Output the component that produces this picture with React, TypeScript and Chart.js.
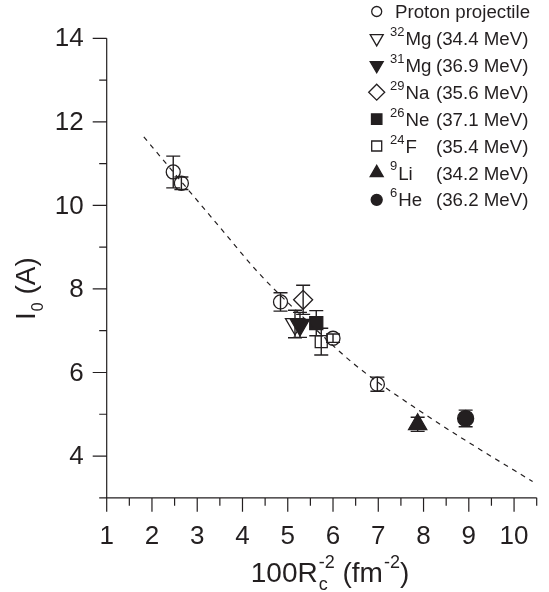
import React, { useEffect, useRef } from 'react';
import { Chart, registerables } from 'chart.js';

Chart.register(...registerables);

// ---- Axis ticks ----
const xTicks = [1, 2, 3, 4, 5, 6, 7, 8, 9, 10];
const xMinor = [1.5, 2.5, 3.5, 4.5, 5.5, 6.5, 7.5, 8.5, 9.5, 10.5];
const yTicks = [4, 6, 8, 10, 12, 14];
const yMinor = [3, 5, 7, 9, 11, 13];

// ---- Data ----
const protonX = [2.47, 2.65, 4.84, 6.0, 6.98];
const protonY = [10.8, 10.53, 7.69, 6.82, 5.72];
const protonErr = [0.38, 0.15, 0.22, 0.1, 0.17];

const mg32X = [5.16];
const mg32Y = [7.16];
const mg32Err = [0.33];

const mg31X = [5.27];
const mg31Y = [7.14];
const mg31Err = [0.3];

const na29X = [5.34];
const na29Y = [7.74];
const na29Err = [0.35];

const ne26X = [5.63];
const ne26Y = [7.18];
const ne26Err = [0.3];

const f24X = [5.74];
const f24Y = [6.74];
const f24Err = [0.32];

const li9X = [7.87];
const li9Y = [4.76];
const li9Err = [0.17];

const he6X = [8.93];
const he6Y = [4.9];
const he6Err = [0.2];

const fitX = [1.82, 2.09, 3.52, 4.35, 5.4, 6.49, 8.0, 9.2, 10.41];
const fitY = [11.64, 11.29, 9.45, 8.39, 7.26, 6.18, 5.02, 4.19, 3.39];

// legend entries: superscript, name, energy
const legendSup = ['', '32', '31', '29', '26', '24', '9', '6'];
const legendName = ['Proton projectile', 'Mg', 'Mg', 'Na', 'Ne', 'F', 'Li', 'He'];
const legendEnergy = ['', '(34.4 MeV)', '(36.9 MeV)', '(35.6 MeV)', '(37.1 MeV)', '(35.4 MeV)', '(34.2 MeV)', '(36.2 MeV)'];

const INK = '#231f20';
const FONT = '"Liberation Sans", Arial, Helvetica, sans-serif';

const zip = (xs: number[], ys: number[]) => xs.map((x, i) => ({ x, y: ys[i] }));

type Marker = { shape: string; fill: boolean; size: number };
const legendMarkers: Marker[] = [
  { shape: 'circle', fill: false, size: 5 },
  { shape: 'tdown', fill: false, size: 7.5 },
  { shape: 'tdown', fill: true, size: 7.5 },
  { shape: 'diamond', fill: false, size: 8 },
  { shape: 'square', fill: true, size: 5.2 },
  { shape: 'square', fill: false, size: 5 },
  { shape: 'tup', fill: true, size: 7.5 },
  { shape: 'circle', fill: true, size: 5.5 },
];

function drawMarker(ctx: CanvasRenderingContext2D, m: Marker, x: number, y: number) {
  ctx.save();
  ctx.beginPath();
  const r = m.size;
  if (m.shape === 'circle') {
    ctx.arc(x, y, r, 0, Math.PI * 2);
  } else if (m.shape === 'square') {
    ctx.rect(x - r, y - r, 2 * r, 2 * r);
  } else if (m.shape === 'diamond') {
    ctx.moveTo(x, y - r);
    ctx.lineTo(x + r, y);
    ctx.lineTo(x, y + r);
    ctx.lineTo(x - r, y);
    ctx.closePath();
  } else if (m.shape === 'tdown') {
    const h = r * Math.sqrt(3) / 2;
    ctx.moveTo(x - h, y - r / 2);
    ctx.lineTo(x + h, y - r / 2);
    ctx.lineTo(x, y + r);
    ctx.closePath();
  } else if (m.shape === 'tup') {
    const h = r * Math.sqrt(3) / 2;
    ctx.moveTo(x - h, y + r / 2);
    ctx.lineTo(x + h, y + r / 2);
    ctx.lineTo(x, y - r);
    ctx.closePath();
  }
  ctx.lineWidth = 1.3;
  ctx.strokeStyle = INK;
  if (m.fill) {
    ctx.fillStyle = INK;
    ctx.fill();
  }
  ctx.stroke();
  ctx.restore();
}

const errorSets = [
  { xs: protonX, ys: protonY, es: protonErr },
  { xs: mg32X, ys: mg32Y, es: mg32Err },
  { xs: mg31X, ys: mg31Y, es: mg31Err },
  { xs: na29X, ys: na29Y, es: na29Err },
  { xs: ne26X, ys: ne26Y, es: ne26Err },
  { xs: f24X, ys: f24Y, es: f24Err },
  { xs: li9X, ys: li9Y, es: li9Err },
  { xs: he6X, ys: he6Y, es: he6Err },
];

const customPlugin = {
  id: 'customAxesLegend',
  beforeDatasetsDraw(chart: any) {
    const ctx: CanvasRenderingContext2D = chart.ctx;
    const xs = chart.scales.x;
    const ys = chart.scales.y;
    ctx.save();
    ctx.strokeStyle = INK;
    ctx.lineWidth = 1.4;
    errorSets.forEach((s) => {
      s.xs.forEach((xv, i) => {
        const px = xs.getPixelForValue(xv);
        const top = ys.getPixelForValue(s.ys[i] + s.es[i]);
        const bot = ys.getPixelForValue(s.ys[i] - s.es[i]);
        ctx.beginPath();
        ctx.moveTo(px, top);
        ctx.lineTo(px, bot);
        ctx.moveTo(px - 7, top);
        ctx.lineTo(px + 7, top);
        ctx.moveTo(px - 7, bot);
        ctx.lineTo(px + 7, bot);
        ctx.stroke();
      });
    });
    ctx.restore();
  },
  afterDraw(chart: any) {
    const ctx: CanvasRenderingContext2D = chart.ctx;
    const xs = chart.scales.x;
    const ys = chart.scales.y;
    const left = xs.getPixelForValue(1);
    const right = xs.getPixelForValue(10.5);
    const top = ys.getPixelForValue(14);
    const bottom = ys.getPixelForValue(3);
    ctx.save();
    ctx.strokeStyle = INK;
    ctx.lineWidth = 1.2;
    // axis lines
    ctx.beginPath();
    ctx.moveTo(left, top);
    ctx.lineTo(left, bottom);
    ctx.moveTo(left, bottom);
    ctx.lineTo(right, bottom);
    // y ticks
    yTicks.forEach((v) => {
      const p = ys.getPixelForValue(v);
      ctx.moveTo(left - 14, p);
      ctx.lineTo(left, p);
    });
    yMinor.forEach((v) => {
      const p = ys.getPixelForValue(v);
      ctx.moveTo(left - 7.5, p);
      ctx.lineTo(left, p);
    });
    xTicks.forEach((v) => {
      const p = xs.getPixelForValue(v);
      ctx.moveTo(p, bottom);
      ctx.lineTo(p, bottom + 14);
    });
    xMinor.forEach((v) => {
      const p = xs.getPixelForValue(v);
      ctx.moveTo(p, bottom);
      ctx.lineTo(p, bottom + 8);
    });
    ctx.stroke();

    // tick labels
    ctx.fillStyle = INK;
    ctx.font = `26px ${FONT}`;
    ctx.textAlign = 'right';
    ctx.textBaseline = 'middle';
    yTicks.forEach((v) => {
      ctx.fillText(String(v), left - 23, ys.getPixelForValue(v) + 1);
    });
    ctx.textAlign = 'center';
    ctx.textBaseline = 'alphabetic';
    xTicks.forEach((v) => {
      ctx.fillText(String(v), xs.getPixelForValue(v), bottom + 46);
    });

    // x title: 100R_c^-2 (fm^-2)
    ctx.textAlign = 'left';
    const main = `28px ${FONT}`;
    const script = `18px ${FONT}`;
    ctx.font = main;
    const w1 = ctx.measureText('100R').width;
    const w3 = ctx.measureText(' (fm').width;
    const w5 = ctx.measureText(')').width;
    ctx.font = script;
    const w2 = Math.max(ctx.measureText('-2').width, ctx.measureText('c').width);
    const w4 = ctx.measureText('-2').width;
    const total = w1 + w2 + w3 + w4 + w5 + 2;
    let tx = 330 - total / 2;
    const base = bottom + 84;
    ctx.font = main;
    ctx.fillText('100R', tx, base);
    tx += w1 + 1;
    ctx.font = script;
    ctx.fillText('-2', tx, base - 14);
    ctx.fillText('c', tx, base + 8);
    tx += w2;
    ctx.font = main;
    ctx.fillText(' (fm', tx, base);
    tx += w3 + 1;
    ctx.font = script;
    ctx.fillText('-2', tx, base - 14);
    tx += w4;
    ctx.font = main;
    ctx.fillText(')', tx, base);

    // y title: I_0 (A)
    ctx.save();
    ctx.translate(35, 320);
    ctx.rotate(-Math.PI / 2);
    ctx.font = main;
    ctx.fillText('I', 0, 0);
    const wi = ctx.measureText('I').width;
    ctx.font = `16px ${FONT}`;
    ctx.fillText('0', wi + 1, 8);
    const w0 = ctx.measureText('0').width;
    ctx.font = main;
    ctx.fillText(' (A)', wi + 1 + w0, 0);
    ctx.restore();

    // legend
    for (let i = 0; i < legendName.length; i++) {
      const yc = 11.5 + i * 26.9;
      drawMarker(ctx, legendMarkers[i], 376.7, yc);
      ctx.fillStyle = INK;
      let lx = 390;
      if (legendSup[i]) {
        ctx.font = `13px ${FONT}`;
        ctx.fillText(legendSup[i], lx, yc - 2.5);
        lx += ctx.measureText(legendSup[i]).width + 1;
      } else {
        lx = 395;
      }
      ctx.font = `18.7px ${FONT}`;
      ctx.fillText(legendName[i], lx, yc + 6.6);
      if (legendEnergy[i]) {
        ctx.fillText(legendEnergy[i], 436, yc + 6.6);
      }
    }
    ctx.restore();
  },
};

const pt = (style: string, radius: number, fill: boolean, rotation = 0) => ({
  type: 'scatter' as const,
  showLine: false,
  pointStyle: style,
  pointRadius: radius,
  pointHoverRadius: radius,
  pointRotation: rotation,
  pointBorderWidth: 1.3,
  borderColor: INK,
  backgroundColor: fill ? INK : 'rgba(0,0,0,0)',
  pointBackgroundColor: fill ? INK : 'rgba(0,0,0,0)',
  pointBorderColor: INK,
});

export default function App() {
  const ref = useRef<HTMLCanvasElement>(null);
  useEffect(() => {
    if (!ref.current) return;
    const chart = new Chart(ref.current, {
      type: 'scatter',
      data: {
        datasets: [
          {
            type: 'line',
            label: 'fit',
            data: zip(fitX, fitY),
            borderColor: INK,
            borderWidth: 1.2,
            borderDash: [5, 5],
            pointRadius: 0,
            fill: false,
            cubicInterpolationMode: 'monotone',
          } as any,
          { label: 'Proton projectile', data: zip(protonX, protonY), ...pt('circle', 7, false) },
          { label: '32Mg', data: zip(mg32X, mg32Y), ...pt('triangle', 11, false, 180) },
          { label: '31Mg', data: zip(mg31X, mg31Y), ...pt('triangle', 11, true, 180) },
          { label: '29Na', data: zip(na29X, na29Y), ...pt('rectRot', 9.5, false) },
          { label: '26Ne', data: zip(ne26X, ne26Y), ...pt('rect', 9.2, true) },
          { label: '24F', data: zip(f24X, f24Y), ...pt('rect', 8.5, false) },
          { label: '9Li', data: zip(li9X, li9Y), ...pt('triangle', 10.5, true) },
          { label: '6He', data: zip(he6X, he6Y), ...pt('circle', 8, true) },
        ],
      },
      options: {
        responsive: false,
        animation: false,
        events: [],
        layout: { padding: { left: 106.7, right: 8, top: 38.3, bottom: 94.2 } },
        plugins: { legend: { display: false }, tooltip: { enabled: false } },
        scales: {
          x: { type: 'linear', min: 1, max: 10.5, display: false },
          y: { type: 'linear', min: 3, max: 14, display: false },
        },
      },
      plugins: [customPlugin],
    } as any);
    return () => chart.destroy();
  }, []);
  return (
    <div style={{ position: 'absolute', left: 0, top: 0, width: 549, height: 592, background: '#fff' }}>
      <canvas ref={ref} width={549} height={592} style={{ display: 'block' }} />
    </div>
  );
}
